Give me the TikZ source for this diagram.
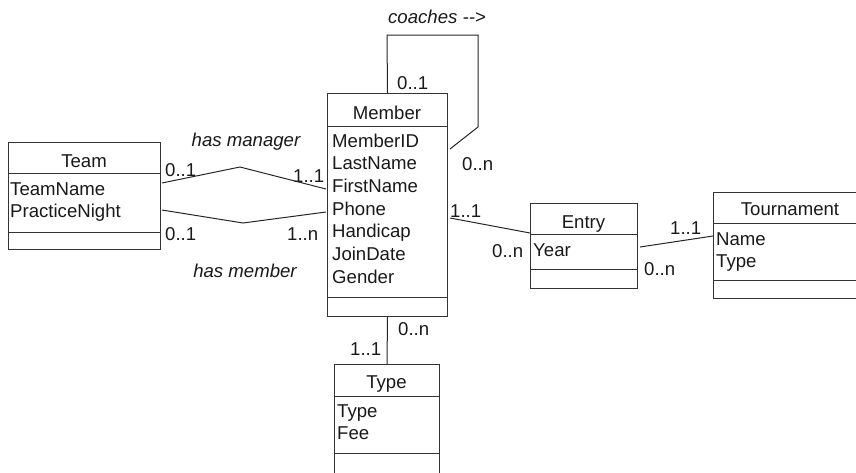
\documentclass[tikz,border=0pt]{standalone}
\usepackage{fontspec}
\setmainfont{Liberation Sans}
\usetikzlibrary{calc}
\begin{document}
\begin{tikzpicture}[x=1pt,y=-1pt,
  classbox/.style={draw=black!80, line width=1pt, inner sep=0pt, anchor=north west},
  sepline/.style={draw=black!80, line width=1pt},
  conn/.style={draw=black!85, line width=1pt},
  txt/.style={font=\fontsize{18.6}{22}\selectfont, inner sep=0pt, text=black!90},
  attr/.style={txt, anchor=base west},
  title/.style={txt, anchor=base},
  mult/.style={txt, anchor=base west},
  role/.style={txt, anchor=base, font=\fontsize{18.6}{22}\selectfont\itshape}]
\useasboundingbox (0,0) rectangle (856,472);
\clip (0,0) rectangle (856,472);

% ---------- Team ----------
\node[classbox, minimum width=152pt, minimum height=107pt] (team) at (8,142) {};
\draw[sepline] ($(team.north west)+(0,31)$) -- ($(team.north east)+(0,31)$);
\draw[sepline] ($(team.north west)+(0,90)$) -- ($(team.north east)+(0,90)$);
\node[title] (teamT) at (84,167) {Team};
\node[attr] (teamA1) at (10,195) {TeamName};
\node[attr] (teamA2) at (10,217) {PracticeNight};

% ---------- Member ----------
\node[classbox, minimum width=120pt, minimum height=223pt] (member) at (327,93) {};
\draw[sepline] ($(member.north west)+(0,33)$) -- ($(member.north east)+(0,33)$);
\draw[sepline] ($(member.north west)+(0,204)$) -- ($(member.north east)+(0,204)$);
\node[title] (memberT) at (387,119) {Member};
\foreach \t [count=\i from 0] in {MemberID,LastName,FirstName,Phone,Handicap,JoinDate,Gender}
  \node[attr] (memberA\i) at (332,147+22.7*\i) {\t};

% ---------- Entry ----------
\node[classbox, minimum width=107pt, minimum height=85pt] (entry) at (530,203) {};
\draw[sepline] ($(entry.north west)+(0,31)$) -- ($(entry.north east)+(0,31)$);
\draw[sepline] ($(entry.north west)+(0,66)$) -- ($(entry.north east)+(0,66)$);
\node[title] (entryT) at (583.5,228) {Entry};
\node[attr] (entryA1) at (533,256) {Year};

% ---------- Tournament ----------
\node[classbox, minimum width=160pt, minimum height=106pt] (tour) at (713,192) {};
\draw[sepline] ($(tour.north west)+(0,31)$) -- ($(tour.north east)+(0,31)$);
\draw[sepline] ($(tour.north west)+(0,88)$) -- ($(tour.north east)+(0,88)$);
\node[title] (tourT) at (790,215) {Tournament};
\node[attr] (tourA1) at (716,245) {Name};
\node[attr] (tourA2) at (716,267) {Type};

% ---------- Type ----------
\node[classbox, minimum width=105pt, minimum height=130pt] (type) at (334,364) {};
\draw[sepline] ($(type.north west)+(0,32)$) -- ($(type.north east)+(0,32)$);
\draw[sepline] ($(type.north west)+(0,89)$) -- ($(type.north east)+(0,89)$);
\node[title] (typeT) at (386.5,388) {Type};
\node[attr] (typeA1) at (337,417) {Type};
\node[attr] (typeA2) at (337,439) {Fee};

% ---------- connectors ----------
% coaches (self association)
\draw[conn] (member.north) -- (387,35) -- (478,35) -- (478,127) -- ($(member.north east)+(2,56)$);
\node[role] (coaches) at (437,23) {coaches -\kern0pt-\kern0pt>};
\node[mult] (m1) at (397,89) {0..1};
\node[mult] (m2) at (462,170) {0..n};

% has manager
\draw[conn] ($(team.north east)+(1,41)$) -- (240,167) -- ($(member.north west)+(-1,96)$);
\node[role] (hasmanager) at (246,146) {has manager};
\node[mult] (m3) at (165,176) {0..1};
\node[mult] (m4) at (293,182) {1..1};

% has member
\draw[conn] ($(team.north east)+(1,68)$) -- (243,223) -- ($(member.north west)+(-1,119)$);
\node[role] (hasmember) at (245,277) {has member};
\node[mult] (m5) at (165,240) {0..1};
\node[mult] (m6) at (287,240) {1..n};

% Member -- Entry
\draw[conn] ($(member.north east)+(2,125)$) -- ($(entry.north west)+(0,30)$);
\node[mult] (m7) at (450,217) {1..1};
\node[mult] (m8) at (492,257) {0..n};

% Entry -- Tournament
\draw[conn] ($(entry.north east)+(2,44)$) -- ($(tour.north west)+(0,44)$);
\node[mult] (m9) at (670,234) {1..1};
\node[mult] (m10) at (644,275) {0..n};

% Member -- Type
\draw[conn] (member.south) -- (type.north);
\node[mult] (m11) at (398,335) {0..n};
\node[mult] (m12) at (350,355) {1..1};
\end{tikzpicture}
\end{document}
